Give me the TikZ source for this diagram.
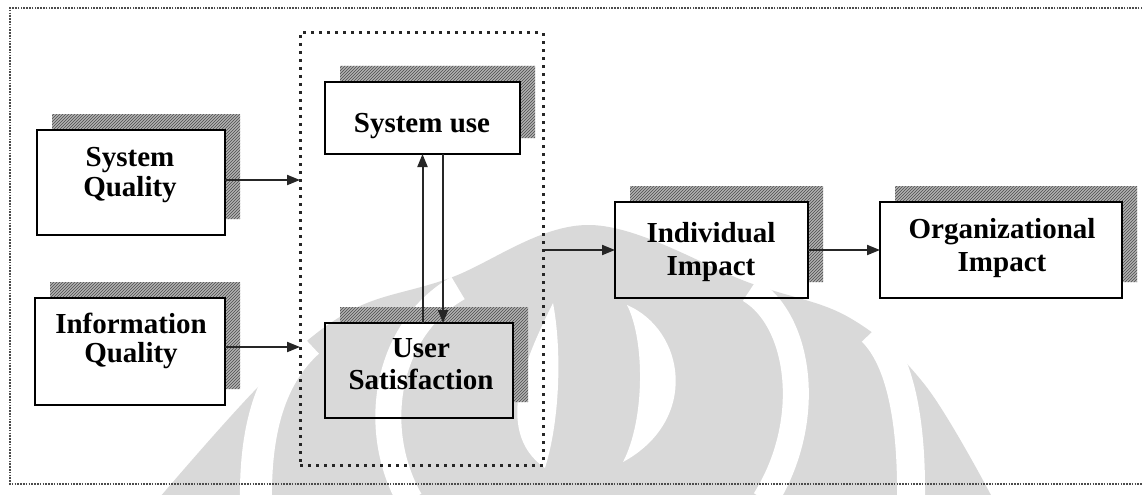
\documentclass[tikz,border=0pt]{standalone}
\usepackage{fontspec}
\setmainfont{Liberation Serif}
\usetikzlibrary{arrows.meta,patterns}
\definecolor{wmgrey}{RGB}{217,217,217}
\pgfdeclarelayer{wmlayer}
\pgfdeclarelayer{shadowlayer}
\pgfsetlayers{wmlayer,shadowlayer,main}
\tikzset{
  box/.style={draw=black, line width=2pt, inner sep=0pt, outer sep=0pt},
  lbl/.style={font=\fontsize{29}{#1}\selectfont\bfseries, align=center, inner sep=0pt},
  lbl/.default=31,
  shadefill/.style={fill=black!30},
  shadehatch/.style={pattern=north east lines, pattern color=black!70},
  arr/.style={draw=black!85, line width=2pt, -{Triangle[length=13pt,width=10pt]}},
  frameline/.style={draw=black!70, line width=1.4pt, dash pattern=on 1.6pt off 1.2pt},
  corebox/.style={draw=black!85, line width=3pt, dash pattern=on 3pt off 5pt,
                  inner sep=0pt, outer sep=0pt},
  wm/.style={fill=wmgrey},
  wmband/.style={draw=white, line width=#1},
}
\begin{document}
\begin{tikzpicture}[x=1pt,y=-1pt]
\useasboundingbox (0,0) rectangle (1143,495);

% ---- faint emblem in the background ----
\begin{pgfonlayer}{wmlayer}
  \fill[white] (0,0) rectangle (1143,495);
  \fill[wm] plot[smooth, tension=0.6] coordinates
    {(160,497) (265,380) (350,311) (450,278) (590,225) (750,283) (850,318) (925,385) (992,497)} -- cycle;
  % outer gaps
  \draw[wmband=32] (308,342) .. controls (275,372) and (255,420) .. (256,500);
  \draw[wmband=28] (872,332) .. controls (900,360) and (912,420) .. (911,500);
  % middle crescents
  \draw[wmband=26] (458,288) .. controls (385,330) and (370,430) .. (410,500);
  \draw[wmband=26] (750,290) .. controls (800,320) and (815,420) .. (765,500);
  % inner crescents
  \fill[white] (627,305) .. controls (685,330) and (700,420) .. (623,462)
               .. controls (645,420) and (645,340) .. (627,305) -- cycle;
  \fill[white] (553,303) .. controls (530,350) and (490,430) .. (545,468)
               .. controls (560,420) and (562,350) .. (553,303) -- cycle;
\end{pgfonlayer}

% ---- outer frame ----
\draw[frameline] (1145,8) -- (10,8) -- (10,484) -- (1145,484);

% ---- grouping box ----
\node[corebox, minimum width=243pt, minimum height=432pt] (core) at (421.5,249) {};

% ---- boxes ----
\node[box, minimum width=188pt, minimum height=105pt] (sq) at (131,182.5) {};
\node[box, minimum width=190pt, minimum height=107pt] (iq) at (130,351.5) {};
\node[box, minimum width=195pt, minimum height=72pt]  (su) at (422.5,118) {};
\node[box, minimum width=188pt, minimum height=95pt]  (us) at (419,370.5) {};
\node[box, minimum width=193pt, minimum height=96pt]  (ii) at (711.5,250) {};
\node[box, minimum width=242pt, minimum height=96pt]  (oi) at (1001,250) {};

% ---- drop shadows: an L-shaped band above and to the right of each box ----
\begin{pgfonlayer}{shadowlayer}
  \foreach \n in {sq,iq,su,us,ii,oi}{
    \foreach \s in {shadefill,shadehatch}{
      \fill[\s] ([xshift=15pt]\n.north west) -- ([xshift=15pt,yshift=16pt]\n.north west)
        -- ([xshift=15pt,yshift=16pt]\n.north east) -- ([xshift=15pt,yshift=16pt]\n.south east)
        -- ([yshift=16pt]\n.south east) -- (\n.north east) -- cycle;
    }
  }
\end{pgfonlayer}

% ---- labels ----
\node[lbl=30] (sqt) at (130,175.4) {System\\Quality};
\node[lbl=29] (iqt) at (131,340.9) {Information\\Quality};
\node[lbl]    (sut) at (422,126.4) {System use};
\node[lbl=32] (ust) at (421,364.2) {User\\Satisfaction};
\node[lbl=33] (iit) at (711,251.9) {Individual\\Impact};
\node[lbl=33] (oit) at (1002,247.9) {Organizational\\Impact};

% ---- connectors ----
\coordinate (sqo) at ([yshift=2.5pt]sq.east);
\coordinate (iqo) at ([yshift=4.5pt]iq.east);
\draw[arr] (sqo) -- (sqo -| core.west);
\draw[arr] (iqo) -- (iqo -| core.west);
\draw[arr] (us.north -| su.south) -- (su.south);
\coordinate (dn) at ([xshift=20.5pt]su.south);
\draw[arr] (dn) -- (dn |- us.north);
\draw[arr] (core.east |- ii.west) -- (ii.west);
\draw[arr] (ii.east) -- (oi.west);
\end{tikzpicture}
\end{document}
